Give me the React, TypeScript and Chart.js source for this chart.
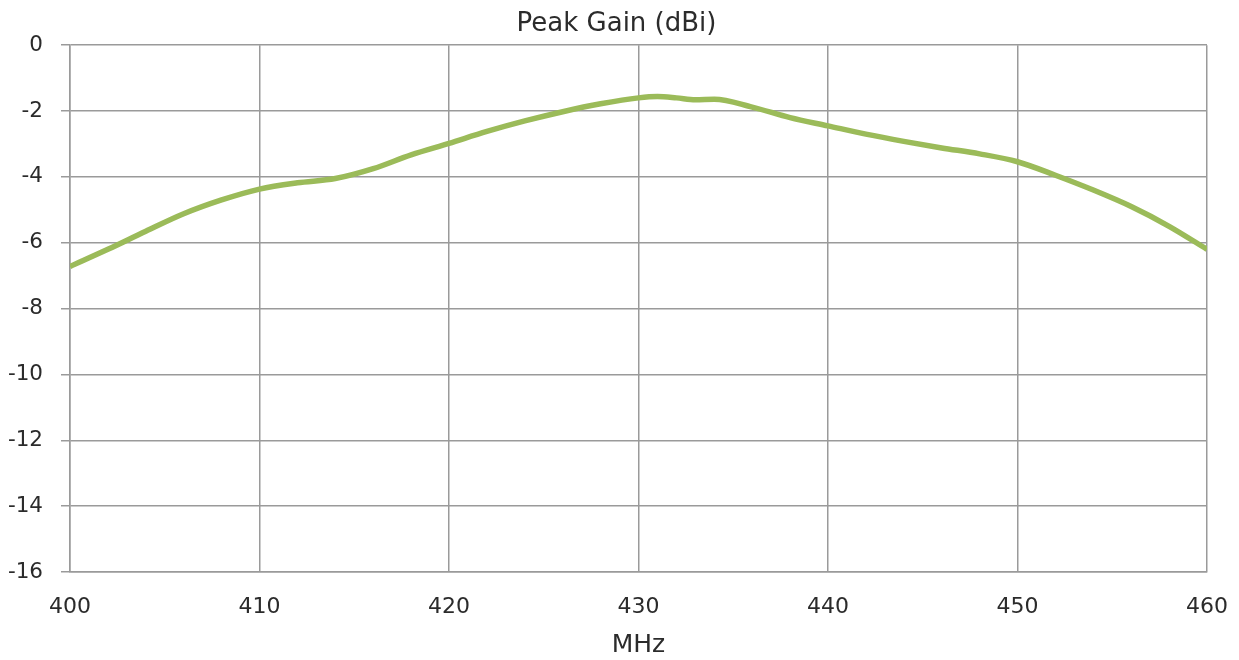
import React, { useEffect, useRef } from "react";
import { Chart, registerables } from "chart.js";

Chart.register(...registerables);

const frequencies = [400, 402, 404, 406, 408, 410, 412, 414, 416, 418, 420, 422, 424, 426, 428, 430, 431, 432, 433, 434, 436, 438, 440, 442, 444, 446, 448, 450, 452, 454, 456, 458, 460];
const peakGain = [-6.72, -6.2, -5.65, -5.12, -4.7, -4.37, -4.18, -4.05, -3.75, -3.33, -2.98, -2.62, -2.3, -2.02, -1.78, -1.6, -1.56, -1.6, -1.66, -1.64, -1.88, -2.2, -2.45, -2.7, -2.92, -3.12, -3.3, -3.54, -3.95, -4.4, -4.9, -5.5, -6.2];

const chartTitle = "Peak Gain (dBi)";
const xTitle = "MHz";

const FONT = "'DejaVu Sans', Verdana, sans-serif";
const GRID = "#9a9a9a";
const TEXT = "#2b2b2b";

export default function App() {
  const ref = useRef<HTMLCanvasElement | null>(null);

  useEffect(() => {
    document.body.style.margin = "0";
    if (!ref.current) return;
    const chart = new Chart(ref.current, {
      type: "line",
      data: {
        datasets: [
          {
            label: chartTitle,
            data: frequencies.map((f, i) => ({ x: f, y: peakGain[i] })),
            borderColor: "#9bbb59",
            backgroundColor: "#9bbb59",
            borderWidth: 5.5,
            pointRadius: 0,
            pointHoverRadius: 0,
            cubicInterpolationMode: "monotone",
            fill: false,
          },
        ],
      },
      options: {
        animation: false,
        responsive: false,
        maintainAspectRatio: false,
        events: [],
        layout: { padding: { left: 0, right: 6, top: 0, bottom: 0 } },
        plugins: {
          legend: { display: false },
          tooltip: { enabled: false },
          title: {
            display: true,
            text: chartTitle,
            color: TEXT,
            font: { family: FONT, size: 26, weight: "normal" },
            padding: { top: 9, bottom: 5 },
          },
        },
        scales: {
          x: {
            type: "linear",
            min: 400,
            max: 460,
            afterFit: (s: any) => {
              s.height = 88;
              s.paddingRight = 0;
              s.paddingLeft = 0;
            },
            ticks: {
              stepSize: 10,
              color: TEXT,
              padding: 22,
              font: { family: FONT, size: 22 },
              maxRotation: 0,
            },
            grid: { color: GRID, lineWidth: 1.5, drawTicks: false },
            border: { color: GRID, width: 1.5 },
            title: {
              display: true,
              text: xTitle,
              color: TEXT,
              font: { family: FONT, size: 25 },
              padding: { top: 12, bottom: 0 },
            },
          },
          y: {
            min: -16,
            max: 0,
            afterFit: (s: any) => {
              s.width = 70;
            },
            ticks: {
              stepSize: 2,
              color: TEXT,
              padding: 18,
              font: { family: FONT, size: 21.5 },
            },
            grid: { color: GRID, lineWidth: 1.5, tickLength: 9, tickColor: GRID },
            border: { color: GRID, width: 1.5 },
          },
          yRight: {
            position: "right",
            min: -16,
            max: 0,
            afterFit: (s: any) => {
              s.width = 26;
            },
            ticks: { display: false },
            grid: { display: false, drawOnChartArea: false },
            border: { display: false },
          },
        },
      },
    });
    return () => chart.destroy();
  }, []);

  return (
    <div style={{ width: 1239, height: 660, background: "#ffffff" }}>
      <canvas ref={ref} width={1239} height={660} style={{ display: "block" }} />
    </div>
  );
}
